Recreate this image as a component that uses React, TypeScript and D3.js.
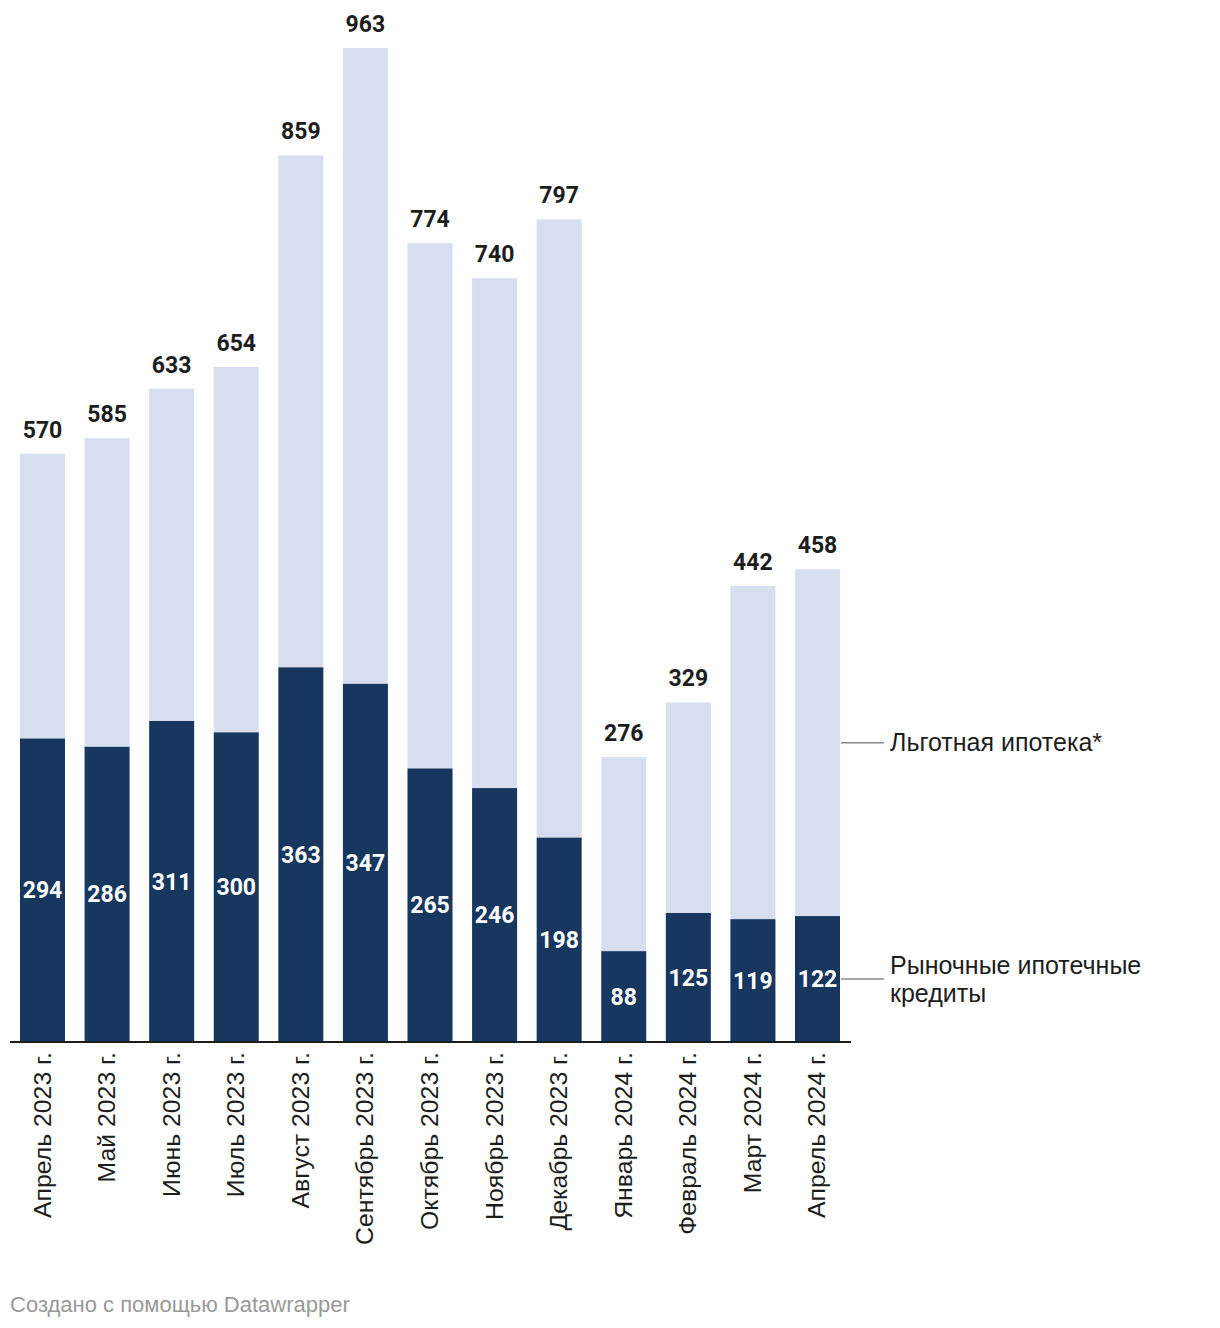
import React from "react";
import * as d3 from "d3";

const months = [
  "Апрель 2023 г.", "Май 2023 г.", "Июнь 2023 г.", "Июль 2023 г.", "Август 2023 г.",
  "Сентябрь 2023 г.", "Октябрь 2023 г.", "Ноябрь 2023 г.", "Декабрь 2023 г.",
  "Январь 2024 г.", "Февраль 2024 г.", "Март 2024 г.", "Апрель 2024 г.",
];
const marketLoans = [294, 286, 311, 300, 363, 347, 265, 246, 198, 88, 125, 119, 122];
const totals = [570, 585, 633, 654, 859, 963, 774, 740, 797, 276, 329, 442, 458];
const seriesNames = ["Льготная ипотека*", "Рыночные ипотечные", "кредиты"];
const footer = "Создано с помощью Datawrapper";

const DARK = "#18375f";
const LIGHT = "#d7def0";
const NUM_FONT = "Roboto, 'Noto Sans', sans-serif";
const TXT_FONT = "'Liberation Sans', Arial, Helvetica, sans-serif";

export default function App() {
  const W = 1220, H = 1328;
  const x = d3.scaleBand<string>().domain(months).range([20, 840]).paddingInner(0.303).paddingOuter(0);
  const y = d3.scaleLinear().domain([0, 963]).range([1042, 48]);
  const bw = x.bandwidth();
  const last = months.length - 1;
  const lastX = (x(months[last]) as number) + bw;
  const lightMid = (y(totals[last]) + y(marketLoans[last])) / 2;
  const darkMid = (y(marketLoans[last]) + y(0)) / 2;

  return (
    <svg width={W} height={H} style={{ position: "absolute", left: 0, top: 0, background: "#fff" }}>
      {months.map((m, i) => {
        const bx = x(m) as number;
        const cx = bx + bw / 2;
        return (
          <g key={m}>
            <rect x={bx} width={bw} y={y(totals[i])} height={y(marketLoans[i]) - y(totals[i])} fill={LIGHT} />
            <rect x={bx} width={bw} y={y(marketLoans[i])} height={y(0) - y(marketLoans[i])} fill={DARK} />
            <text x={cx} y={y(totals[i]) - 16} textAnchor="middle" fontFamily={NUM_FONT} fontSize={23} fontWeight={700} fill="#1d1d1d">{totals[i]}</text>
            <text x={cx} y={(y(marketLoans[i]) + y(0)) / 2} dy="0.35em" textAnchor="middle" fontFamily={NUM_FONT} fontSize={23} fontWeight={700} fill="#fff">{marketLoans[i]}</text>
            <text transform={`translate(${cx + 8},1052) rotate(-90)`} textAnchor="end" fontFamily={TXT_FONT} fontSize={24.8} fill="#1d1d1d">{m}</text>
          </g>
        );
      })}
      <line x1={10} x2={851} y1={1042} y2={1042} stroke="#1d1d1d" strokeWidth={2} />
      <line x1={lastX + 1} x2={884} y1={lightMid} y2={lightMid} stroke="#888" strokeWidth={1.5} />
      <line x1={lastX + 1} x2={884} y1={darkMid} y2={darkMid} stroke="#888" strokeWidth={1.5} />
      <g fontFamily={TXT_FONT} fontSize={25} fill="#1d1d1d">
        <text x={890} y={lightMid} dy="0.35em">{seriesNames[0]}</text>
        <text x={890} y={darkMid - 14} dy="0.35em">{seriesNames[1]}</text>
        <text x={890} y={darkMid + 14} dy="0.35em">{seriesNames[2]}</text>
      </g>
      <text x={10} y={1312} fontFamily={TXT_FONT} fontSize={22} fill="#999">{footer}</text>
    </svg>
  );
}
